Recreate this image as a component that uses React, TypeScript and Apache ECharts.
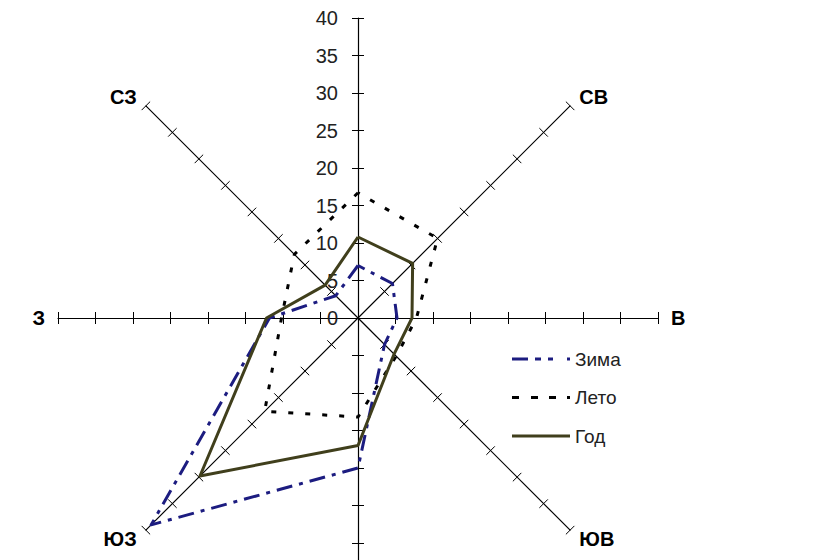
import React, { useEffect, useRef } from 'react';
import * as echarts from 'echarts';

// Directions in counter-clockwise order starting from North (radar default order)
const directions = ['С', 'СЗ', 'З', 'ЮЗ', 'Ю', 'ЮВ', 'В', 'СВ'];
// Axis names that fall outside the visible picture in the reference
const offscreenNames = ['С', 'Ю'];
const winter = [7, 4.2, 11.8, 39, 20, 5, 5.2, 6.5];
const summer = [16.7, 12, 10.2, 17.6, 13.2, 7.2, 7.8, 15];
const year = [10.8, 6.2, 12.2, 29.8, 17, 6.8, 7.2, 10.3];
const seriesNames = ['Зима', 'Лето', 'Год'];
const axisMin = 0;
const axisMax = 40;
const axisSplits = 8;

export default function App() {
  const ref = useRef<HTMLDivElement>(null);

  useEffect(() => {
    document.body.style.margin = '0';
    document.body.style.overflow = 'hidden';
    const chart = echarts.init(ref.current as HTMLDivElement, null, { renderer: 'svg' });
    const font = "'Liberation Sans', Arial, sans-serif";

    const indicatorMain = directions.map((d, i) => ({
      name: d,
      min: axisMin,
      max: axisMax,
      axisLabel: { show: i === 0 },
    }));
    const indicatorBack = directions.map((d) => ({ name: d, min: axisMin, max: axisMax }));

    const colors = ['#1c1c80', '#000000', '#403f1c'];
    const dashes: any[] = [[16, 7, 4, 7], [5, 12], 'solid'];
    const values = [winter, summer, year];
    const icons = [
      'path://M0,0h16v3h-16z M23,0h6v3h-6z M36,0h5v3h-5z M55,0h3v3h-3z',
      'path://M0,0h7v3h-7z M19,0h7v3h-7z M37,0h7v3h-7z M55,0h3v3h-3z',
      'path://M0,0h58v3h-58z',
    ];

    const option: any = {
      animation: false,
      backgroundColor: '#ffffff',
      legend: {
        orient: 'vertical',
        left: 507,
        top: 344,
        itemWidth: 58,
        itemHeight: 3,
        itemGap: 18.5,
        itemStyle: { borderWidth: 0 },
        textStyle: { fontSize: 19, color: '#222', fontFamily: font, lineHeight: 20 },
        data: seriesNames.map((n, i) => ({ name: n, icon: icons[i], itemStyle: { color: colors[i], borderWidth: 0 } })),
      },
      radar: [
        {
          center: [358, 318],
          radius: 300,
          startAngle: 90,
          splitNumber: axisSplits,
          shape: 'polygon',
          indicator: indicatorMain,
          nameGap: 13,
          axisName: {
            color: '#000',
            fontSize: 20,
            fontWeight: 'bold',
            fontFamily: font,
            formatter: (name: string) => (offscreenNames.indexOf(name) >= 0 ? '' : name),
          },
          axisLine: { show: true, lineStyle: { color: '#000', width: 1.2 } },
          axisTick: { show: true, length: 6, lineStyle: { color: '#000', width: 1 } },
          axisLabel: { show: false, margin: 20, fontSize: 20, color: '#222', fontFamily: font },
          splitLine: { show: false },
          splitArea: { show: false },
        },
        {
          center: [358, 318],
          radius: 300,
          startAngle: 90,
          splitNumber: axisSplits,
          shape: 'polygon',
          indicator: indicatorBack,
          axisName: { show: false },
          axisLine: { show: false },
          axisTick: { show: true, length: -6, lineStyle: { color: '#000', width: 1 } },
          axisLabel: { show: false },
          splitLine: { show: false },
          splitArea: { show: false },
        },
      ],
      series: seriesNames.map((n, i) => ({
        type: 'radar',
        name: n,
        radarIndex: 0,
        symbol: 'none',
        itemStyle: { color: colors[i] },
        lineStyle: { color: colors[i], width: 3, type: dashes[i] },
        data: [{ name: n, value: values[i] }],
      })),
    };

    chart.setOption(option);
    return () => {
      chart.dispose();
    };
  }, []);

  return <div ref={ref} style={{ width: 815, height: 560 }} />;
}
